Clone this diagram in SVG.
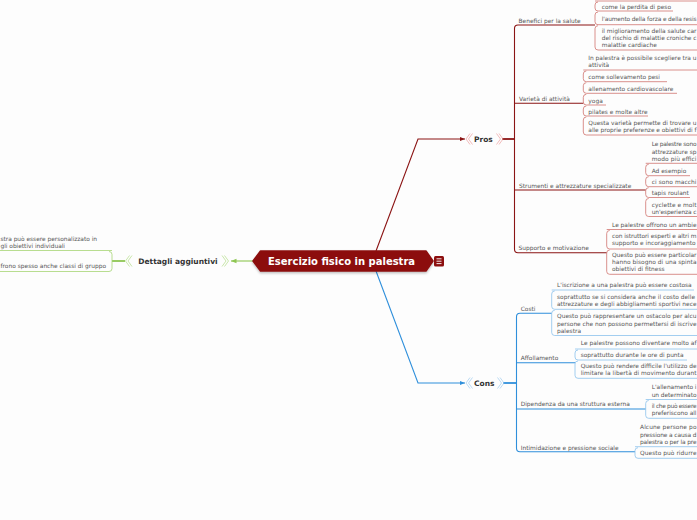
<svg xmlns="http://www.w3.org/2000/svg" width="697" height="520" viewBox="0 0 697 520">
<defs>
<style>
.t{font-family:"DejaVu Sans",sans-serif;font-size:5.9px;fill:#555}
.h{font-family:"DejaVu Sans",sans-serif;font-weight:bold;font-size:7.5px;fill:#333}
.ttl{font-family:"DejaVu Sans",sans-serif;font-weight:bold;font-size:10px;fill:#fff}
.pr{stroke:#8b1414;fill:none;stroke-width:1.1}
.prc{stroke:#d07570;fill:none;stroke-width:0.8}
.cn{stroke:#2f8fdb;fill:none;stroke-width:1.1}
.cnc{stroke:#8cc2ec;fill:none;stroke-width:0.8}
.gr{stroke:#8ec653;fill:none;stroke-width:1.1}
.grc{stroke:#a6d474;fill:none;stroke-width:0.8}
.thk{stroke-width:1.8}
.chp{stroke:#ee9f9f;fill:none;stroke-width:0.7}
.chc{stroke:#9fcbef;fill:none;stroke-width:0.7}
.chg{stroke:#b3dc88;fill:none;stroke-width:0.7}
</style>
<marker id="ar" viewBox="0 0 6 6" refX="6" refY="3" markerWidth="5" markerHeight="5" orient="auto"><path d="M0,0.5 L6,3 L0,5.5 z" fill="#8b1414"/></marker>
<marker id="ab" viewBox="0 0 6 6" refX="6" refY="3" markerWidth="5" markerHeight="5" orient="auto"><path d="M0,0.5 L6,3 L0,5.5 z" fill="#2f8fdb"/></marker>
<marker id="ag" viewBox="0 0 6 6" refX="6" refY="3" markerWidth="5" markerHeight="5" orient="auto"><path d="M0,0.5 L6,3 L0,5.5 z" fill="#8ec653"/></marker>
<filter id="sh" x="-10%" y="-30%" width="120%" height="180%"><feDropShadow dx="0" dy="1.5" stdDeviation="1.2" flood-color="#000" flood-opacity="0.25"/></filter>
</defs>
<rect width="697" height="520" fill="#fdfdfd"/>

<g id="connectors">
<path class="pr" d="M376,251 L418,139 L465,139" marker-end="url(#ar)"/>
<path class="cn" d="M376,271 L418,383 L465,383" marker-end="url(#ab)"/>
<path class="gr" d="M253,261 L231,261" marker-end="url(#ag)"/>
<path class="pr thk" d="M502,139 H514.5"/>
<path class="pr" d="M595,25 H518 Q514.5,25 514.5,28.5 V249.2 Q514.5,252.7 518,252.7 H606.7"/>
<path class="pr" d="M514.5,103.3 H583.3 M514.5,190 H645.7"/>
<path class="cn thk" d="M503,383 H516.5"/>
<path class="cn" d="M551.7,313.3 H520 Q516.5,313.3 516.5,316.8 V448.2 Q516.5,451.7 520,451.7 H635"/>
<path class="cn" d="M516.5,362.7 H575 M516.5,409 H645.7"/>
<path class="gr thk" d="M125,261 H112"/>
</g>

<g id="central">
<path d="M253,261 L260.5,251 H426 L433,261 L426,271 H260.5 Z" fill="#8c0f0f" stroke="#8c0f0f" stroke-width="1.5" stroke-linejoin="round" filter="url(#sh)"/>
<text class="ttl" x="268" y="265">Esercizio fisico in palestra</text>
<rect x="434" y="256" width="10" height="10.5" rx="1.5" fill="#8c0f0f"/>
<path d="M436.5,258.8 H441.5 M436.5,261.2 H441.5 M436.5,263.6 H441.5" stroke="#fff" stroke-width="0.9"/>
</g>

<g id="pros">
<path class="chp" d="M470,133.5 L466,139 L470,144.5 M472.5,133.5 L468.5,139 L472.5,144.5"/>
<text class="h" x="474" y="141.8">Pros</text>
<path class="chp" d="M496.5,133.5 L500.5,139 L496.5,144.5 M499,133.5 L503,139 L499,144.5"/>
</g>

<g id="cons">
<path class="chc" d="M470,377.5 L466,383 L470,388.5 M472.5,377.5 L468.5,383 L472.5,388.5"/>
<text class="h" x="474" y="386">Cons</text>
<path class="chc" d="M497.5,377.5 L501.5,383 L497.5,388.5 M500,377.5 L504,383 L500,388.5"/>
</g>

<g id="dettagli">
<path class="chg" d="M129.5,255.5 L125.5,261 L129.5,266.5 M132,255.5 L128,261 L132,266.5"/>
<text class="h" x="138.3" y="263.8">Dettagli aggiuntivi</text>
<path class="chg" d="M222,255.5 L226,261 L222,266.5 M224.5,255.5 L228.5,261 L224.5,266.5"/>
</g>

<g id="dettagli-1">
<path class="grc" d="M112,250.5 H-1"/>
<text class="t" x="0.5" y="240.6" textLength="96.5">stra può essere personalizzato in</text>
<text class="t" x="0.5" y="247.9" textLength="64.5">gli obiettivi individuali</text>
</g>
<g id="dettagli-2">
<path class="grc" d="M109,251.5 Q112,251.5 112,254.5 V268.5 Q112,271.5 109,271.5 H-1"/>
<text class="t" x="0.5" y="268" textLength="105.5">frono spesso anche classi di gruppo</text>
</g>

<g id="benefici">
<text class="t" x="518.5" y="22.5">Benefici per la salute</text>
</g>
<g id="benefici-children">
<path class="prc" d="M595,1 H697"/>
<path class="prc" d="M598,2 Q595,2 595,5 V8 Q595,11 598,11 H673"/>
<text class="t" x="601.7" y="8.9">come la perdita di peso</text>
<path class="prc" d="M598,12 Q595,12 595,15 V21.7 Q595,24.7 598,24.7 H697"/>
<text class="t" x="601.7" y="21.4" textLength="94.8">l'aumento della forza e della resis</text>
<path class="prc" d="M598,25.7 Q595,25.7 595,28.7 V47 Q595,50 598,50 H697"/>
<text class="t" x="601.7" y="32.6" textLength="94.8">il miglioramento della salute car</text>
<text class="t" x="601.7" y="40" textLength="94.8">del rischio di malattie croniche c</text>
<text class="t" x="601.7" y="47.3">malattie cardiache</text>
</g>

<g id="varieta">
<text class="t" x="519" y="101">Varietà di attività</text>
</g>
<g id="varieta-children">
<path class="prc" d="M583.3,70 H697"/>
<text class="t" x="588.3" y="60.3" textLength="108.2">In palestra è possibile scegliere tra u</text>
<text class="t" x="588.3" y="67.3">attività</text>
<path class="prc" d="M586.3,71 Q583.3,71 583.3,74 V78.7 Q583.3,81.7 586.3,81.7 H667"/>
<text class="t" x="588.3" y="78.5">come sollevamento pesi</text>
<path class="prc" d="M586.3,82.7 Q583.3,82.7 583.3,85.7 V90.3 Q583.3,93.3 586.3,93.3 H677"/>
<text class="t" x="588.3" y="90.8">allenamento cardiovascolare</text>
<path class="prc" d="M586.3,94.3 Q583.3,94.3 583.3,97.3 V102 Q583.3,105 586.3,105 H606"/>
<text class="t" x="588.3" y="102.8">yoga</text>
<path class="prc" d="M586.3,106 Q583.3,106 583.3,109 V113 Q583.3,116 586.3,116 H648"/>
<text class="t" x="588.3" y="113.5">pilates e molte altre</text>
<path class="prc" d="M586.3,117 Q583.3,117 583.3,120 V132 Q583.3,135 586.3,135 H697"/>
<text class="t" x="588.3" y="124.5" textLength="108.2">Questa varietà permette di trovare u</text>
<text class="t" x="588.3" y="131.8" textLength="108.2">alle proprie preferenze e obiettivi di f</text>
</g>

<g id="strumenti">
<text class="t" x="519" y="187.7">Strumenti e attrezzature specializzate</text>
</g>
<g id="strumenti-children">
<path class="prc" d="M645.7,163.3 H697"/>
<text class="t" x="651.7" y="146.1" textLength="44.8">Le palestre sono</text>
<text class="t" x="651.7" y="153.5" textLength="44.8">attrezzature sp</text>
<text class="t" x="651.7" y="160.8" textLength="44.8">modo più effici</text>
<path class="prc" d="M648.7,164.3 Q645.7,164.3 645.7,167.3 V172.7 Q645.7,175.7 648.7,175.7 H690"/>
<text class="t" x="651.7" y="172.5">Ad esempio</text>
<path class="prc" d="M648.7,176.7 Q645.7,176.7 645.7,179.7 V183.7 Q645.7,186.7 648.7,186.7 H697"/>
<text class="t" x="651.7" y="183.8" textLength="44.8">ci sono macchi</text>
<path class="prc" d="M648.7,187.7 Q645.7,187.7 645.7,190.7 V194.5 Q645.7,197.5 648.7,197.5 H690"/>
<text class="t" x="651.7" y="194.9">tapis roulant</text>
<path class="prc" d="M648.7,198.5 Q645.7,198.5 645.7,201.5 V213.5 Q645.7,216.5 648.7,216.5 H697"/>
<text class="t" x="651.7" y="206.8" textLength="44.8">cyclette e molt</text>
<text class="t" x="651.7" y="214" textLength="44.8">un'esperienza c</text>
</g>

<g id="supporto">
<text class="t" x="518.5" y="250">Supporto e motivazione</text>
</g>
<g id="supporto-children">
<path class="prc" d="M606.7,229.5 H697"/>
<text class="t" x="612" y="226.8" textLength="84.5">Le palestre offrono un ambie</text>
<path class="prc" d="M609.7,230.5 Q606.7,230.5 606.7,233.5 V246 Q606.7,249 609.7,249 H697"/>
<text class="t" x="612" y="238" textLength="84.5">con istruttori esperti e altri m</text>
<text class="t" x="612" y="245.3">supporto e incoraggiamento</text>
<path class="prc" d="M609.7,250 Q606.7,250 606.7,253 V271.3 Q606.7,274.3 609.7,274.3 H697"/>
<text class="t" x="612" y="256.8" textLength="84.5">Questo può essere particolar</text>
<text class="t" x="612" y="264.1" textLength="84.5">hanno bisogno di una spinta</text>
<text class="t" x="612" y="271.4">obiettivi di fitness</text>
</g>

<g id="costi">
<text class="t" x="520.7" y="310.5">Costi</text>
</g>
<g id="costi-children">
<path class="cnc" d="M551.7,290 H694"/>
<text class="t" x="557" y="286.8" textLength="134.7">L'iscrizione a una palestra può essere costosa</text>
<path class="cnc" d="M554.7,291 Q551.7,291 551.7,294 V306.3 Q551.7,309.3 554.7,309.3 H697"/>
<text class="t" x="557" y="299" textLength="138">soprattutto se si considera anche il costo delle</text>
<text class="t" x="557" y="306.3" textLength="139.5">attrezzature e degli abbigliamenti sportivi nece</text>
<path class="cnc" d="M554.7,310.3 Q551.7,310.3 551.7,313.3 V332.5 Q551.7,335.5 554.7,335.5 H697"/>
<text class="t" x="557" y="318.3" textLength="139.5">Questo può rappresentare un ostacolo per alcu</text>
<text class="t" x="557" y="325.6" textLength="139.5">persone che non possono permettersi di iscrive</text>
<text class="t" x="557" y="332.9">palestra</text>
</g>

<g id="affollamento">
<text class="t" x="520.7" y="360.3">Affollamento</text>
</g>
<g id="affollamento-children">
<path class="cnc" d="M575,349 H697"/>
<text class="t" x="580.7" y="345.1" textLength="115.8">Le palestre possono diventare molto af</text>
<path class="cnc" d="M578,350 Q575,350 575,353 V357 Q575,360 578,360 H687"/>
<text class="t" x="580.7" y="356.8">soprattutto durante le ore di punta</text>
<path class="cnc" d="M578,361 Q575,361 575,364 V375.3 Q575,378.3 578,378.3 H697"/>
<text class="t" x="580.7" y="367.8" textLength="115.8">Questo può rendere difficile l'utilizzo de</text>
<text class="t" x="580.7" y="375.1" textLength="115.8">limitare la libertà di movimento durant</text>
</g>

<g id="dipendenza">
<text class="t" x="520.7" y="406.3">Dipendenza da una struttura esterna</text>
</g>
<g id="dipendenza-children">
<path class="cnc" d="M645.7,399.5 H697"/>
<text class="t" x="651.7" y="389.3" textLength="44.8">L'allenamento i</text>
<text class="t" x="651.7" y="396.6" textLength="44.8">un determinato</text>
<path class="cnc" d="M648.7,400.5 Q645.7,400.5 645.7,403.5 V415.3 Q645.7,418.3 648.7,418.3 H697"/>
<text class="t" x="651.7" y="407.8" textLength="44.8">il che può essere</text>
<text class="t" x="651.7" y="415.1" textLength="44.8">preferiscono all</text>
</g>

<g id="intimidazione">
<text class="t" x="520.7" y="449.5">Intimidazione e pressione sociale</text>
</g>
<g id="intimidazione-children">
<path class="cnc" d="M635,446.7 H697"/>
<text class="t" x="640" y="429.3" textLength="56.5">Alcune persone po</text>
<text class="t" x="640" y="436.6" textLength="56.5">pressione a causa d</text>
<text class="t" x="640" y="443.9" textLength="56.5">palestra o per la pre</text>
<path class="cnc" d="M638,447.7 Q635,447.7 635,450.7 V455.3 Q635,458.3 638,458.3 H697"/>
<text class="t" x="640" y="455.1" textLength="56.5">Questo può ridurre</text>
</g>
</svg>
